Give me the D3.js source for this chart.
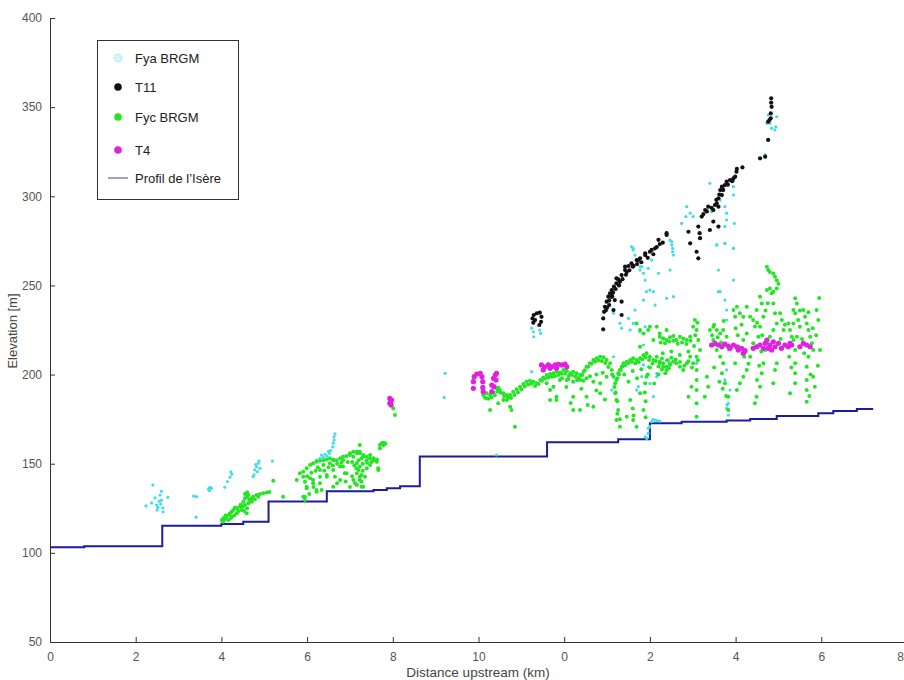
<!DOCTYPE html>
<html>
<head>
<meta charset="utf-8">
<script src="https://cdn.jsdelivr.net/npm/d3@7"></script>
<style>
  html, body { margin: 0; padding: 0; background: #fff; }
  svg { display: block; font-family: "Liberation Sans", Arial, sans-serif; }
</style>
</head>
<body>
<svg id="chart" width="904" height="680"></svg>
<script>
// Tick positions (km along the composite profile) and their printed labels
const xTickValues = [0, 2, 4, 6, 8, 10, 12, 14, 16, 18, 20];
const xTickLabels = ["0", "2", "4", "6", "8", "10", "0", "2", "4", "6", "8"];
const yTickValues = [50, 100, 150, 200, 250, 300, 350, 400];

// River long profile of the Isère: [distance km, elevation m], stepped
const profileIsere = [
  [0, 103.2], [0.8, 103.7], [2.62, 115.2], [4.0, 116.2], [4.51, 117.5],
  [5.1, 128.8], [6.46, 134.5], [7.55, 135.2], [7.86, 136.2], [8.17, 137.3],
  [8.63, 154], [11.6, 162], [13.26, 163.7], [14.0, 172.7], [14.74, 173.6],
  [15.79, 174.3], [16.34, 175.1], [16.96, 176.8], [17.93, 178.3], [18.28, 179.6],
  [18.83, 180.7], [19.21, 180.7]
];

// Fya BRGM terrace points
const fyaBRGM = [
  [2.4,138],[2.24,126.3],[2.37,128],[2.45,130.8],[2.49,126.8],[2.5,124],[2.57,132.4],[2.6,129.6],
  [2.63,125.2],[2.64,123],[2.75,131.2],[2.58,127.4],[2.52,125.5],[2.55,129],[2.6,134.5],
  [3.35,131.9],[3.42,131.5],[3.41,120],
  [3.7,135.6],[3.73,136.8],[3.77,136.2],[3.72,134.9],
  [4.08,136.8],[4.14,140],[4.2,142.4],[4.24,144.2],[4.22,145.5],
  [4.74,142.7],[4.78,146.5],[4.82,148.3],[4.86,150.2],[4.9,147.4],[4.84,145.5],[4.76,143.7],[5.19,151.5],
  [4.8,149.5],[4.88,151.5],
  [6.22,152],[6.3,153],[6.38,153.6],[6.46,154.3],[6.52,155.8],[6.55,157.3],[6.6,159.5],[6.61,161.5],
  [6.63,163.3],[6.63,165.1],[6.65,166.7],[6.34,154.8],[6.42,155.3],[6.5,157],
  [9.22,200.7],[9.2,187.2],[10.42,154.9],[11.24,201.6],
  [11.24,226],[11.28,224],[11.29,221.2],[11.43,225],[11.45,223.1],
  [13.61,270.8],[13.65,267],[13.77,260.5],[13.85,256.8],[13.89,253],[13.92,246.5],[13.85,241.8],
  [13.65,236.2],[13.61,228.7],[13.54,225],[13.34,226],[13.89,226.8],[14.08,246.5],[14.12,239],
  [14.0,247.4],[14.2,256.8],[14.51,274.5],[14.53,270.8],[14.47,258.6],[14.39,242.8],[14.55,243.7],
  [15.56,272.7],[15.6,258.6],[15.75,273.6],[15.95,270.8],[15.95,253],[15.6,246.5],[15.79,236.2],
  [15.71,225],[15.83,213.8],[13.15,210],[13.65,206.3],[13.85,205.4],[13.81,198.8],[13.73,193.2],
  [13.11,191.3],[14.16,200.7],[14.43,208.2],[14.78,202.6],[15.09,206.3],[15.75,197],[15.87,191.3],
  [13.57,271.8],[13.61,269.9],[13.77,258.6],[13.81,260.5],[13.96,259.6],[14.04,264.2],
  [14.47,275.4],[14.51,272.7],[14.53,268.9],[14.55,267],[14.86,294.2],[14.94,290.5],[14.84,288.6],
  [15.01,288.6],[14.74,284.8],[15.4,307.3],[15.36,294.2],[15.44,291.4],[15.64,297.9],[15.75,294.2],
  [15.79,290.5],[15.79,286.7],[15.75,283],[15.95,309.1],[15.95,305.4],[15.95,300.7],[15.97,284.8],
  [15.56,272.7],[15.95,270.8],[15.75,273.6],
  [16.76,345.6],[16.8,341],[16.84,338.1],[16.92,337.2],[16.96,344.6],[16.94,339],[16.73,341],[16.69,323.2],
  [13.93,164.2],[13.96,167],[14.0,170.8],[14.04,173.6],[14.12,174.5],[14.23,173.9],[13.89,165.1],
  [13.96,169.9],[14.07,174.8],[14.17,174.2],[15.79,181],[15.8,183],
  [13.15,234.4],[13.3,228.8],[13.5,231.5],[13.77,224],[13.85,216.6],[13.96,204.4],[14.0,195],
  [14.08,187.6],[14.16,198.8],[13.89,210],[13.69,191.3],
  [15.64,246.5],[15.75,241.8],[15.79,230.6],[15.79,202.6],[15.83,183.9],[15.83,177.3]
];

// T11 terrace points
const t11 = [
  [11.26,231.5],[11.28,229.1],[11.29,233.4],[11.36,234.4],[11.43,234.7],[11.47,232.4],[11.46,229.6],
  [11.42,227.8],[11.32,230.6],
  [12.91,225.4],[12.91,231.5],[12.93,235.2],[12.95,238],[12.99,240.9],[13.03,243.7],[13.07,245.6],
  [13.11,247.4],[13.16,249.3],[13.22,251.2],[13.26,253.4],[13.34,255.8],[13.42,258.6],[13.5,260.9],
  [13.57,262.4],[13.69,264.2],[13.77,265.2],[13.89,267],[14.0,268.9],[14.12,270.8],[14.23,273.2],
  [14.39,278.3],[13.15,236.2],[13.34,240.9],[13.34,233.4],[13.18,241.8],[13.05,239],[13.12,244],
  [13.3,252],[13.46,257.5],[13.62,261],
  [12.97,236],[13.0,237.5],[13.05,241.5],[13.1,243.5],[13.14,246],[13.2,248],[13.28,250],
  [13.36,253.5],[13.44,256],[13.52,258.5],[13.6,260.5],[13.7,262],[13.8,263],[13.95,265.5],
  [14.08,267.5],[14.16,271.5],[14.3,274],
  [14.94,273.6],[15.09,268.9],[15.13,265.2],[14.9,280.1],
  [13.22,254],[13.42,260.5],[13.73,264.2],[13.89,268],[14.04,269.9],[14.2,275.6],[14.39,279.3],
  [15.13,283],[15.16,279.3],[15.17,276.5],[15.21,288.6],[15.29,292.3],[15.36,294.2],[15.48,292.3],
  [15.52,295.1],[15.56,296.1],[15.6,298.9],[15.64,303.5],[15.68,305.4],[15.75,306.3],[15.79,308.2],
  [15.87,309.1],[15.95,310],[15.99,311],[16.02,313.8],[16.16,316.2],[16.03,315.4],[15.71,303.5],
  [15.68,300.7],[15.6,294.2],[15.48,285.8],[15.6,283],[15.4,281.1],
  [15.25,290],[15.33,291.5],[15.44,293.5],[15.55,298],[15.62,301],[15.7,304],[15.82,306.5],[15.92,308.5],
  [16.57,321.3],[16.69,322.2],[16.76,331.6],[16.79,342.8],[16.82,343.7],[16.82,346.5],[16.84,350.2],
  [16.83,352.5],[16.83,355],[16.76,341.8]
];

// Fyc BRGM terrace points
const fycBRGM = [
  [4.01,118.4],[4.08,118.8],[4.12,120.3],[4.2,122.2],[4.24,123.1],[4.28,124],[4.36,125],[4.43,125.9],
  [4.51,128.7],[4.55,130.6],[4.59,131.5],[4.63,132.4],[4.67,129.6],[4.63,127.8],[4.55,126.8],
  [4.47,124],[4.36,122.2],[4.24,120.3],[4.16,118.4],[4.04,117.5],[4.74,131.5],[4.82,132.4],
  [4.9,133],[4.98,133.4],[5.06,133.8],[5.12,134.1],[4.86,131.5],[4.71,128.7],[5.21,140.5],
  [5.44,131.5],[4.59,122.2],
  [4.05,119.5],[4.1,121],[4.18,121.5],[4.22,119.5],[4.3,121],[4.32,125.5],[4.4,123.5],[4.45,127],
  [4.5,126],[4.53,123.5],[4.6,125],[4.65,130],[4.7,130.5],[4.78,130],[4.55,133],[4.6,134],
  [5.83,144.6],[5.91,145.5],[5.99,147.4],[6.07,149.3],[6.14,150.2],[6.22,151.1],[6.3,151.7],
  [6.38,152],[6.46,152.4],[6.53,153],[6.61,152.4],[6.69,152],[6.77,153],[6.84,153.9],[6.92,154.3],
  [7.0,155.8],[7.08,156.7],[7.16,156.7],[7.23,155.8],[7.31,154.9],[7.39,153.9],[7.47,153],[7.55,152],
  [7.63,152.4],[7.7,160.5],[7.74,161.5],[7.78,161.8],[7.82,161],[7.23,160.5],[7.27,153],[7.16,150.2],
  [7.2,146.5],[7.23,142.7],[7.27,139.9],[7.16,138.1],[7.31,137.1],[7.08,140.9],[6.77,148.4],
  [6.61,146.5],[6.46,143.7],[6.3,142.7],[6.14,140.9],[5.99,136.2],[5.91,131.5],[6.22,134.3],
  [6.34,135.2],[7.27,143.7],[7.39,147.4],[7.47,149.3],[7.66,146.5],[6.84,148.4],[6.92,144.6],
  [6.65,142.7],[6.07,141.8],[5.95,139.9],
  [5.76,140.9],[5.91,142.7],[5.99,137.1],[6.14,139],[6.22,135.2],[5.95,131.5],[5.95,129.6],
  [6.3,146.5],[6.38,149.3],[6.53,150.2],[6.61,152],[6.84,152],[7.0,154.9],[7.08,153.9],[7.16,155.8],
  [7.23,156.7],[7.31,153.9],[7.39,152],[7.47,154.9],[7.55,153],[7.63,151.1],[7.23,148.4],[7.16,144.6],
  [7.23,140.9],[7.27,137.1],[7.12,139],[7.35,142.7],[7.7,158.6],[7.78,160.5],[7.82,161.5],[7.66,147.4],
  [8.01,181],[8.05,177.3],[6.88,144.6],[6.77,140.9],[6.61,137.1],[6.46,142.7],
  [6.0,143],[6.1,145],[6.2,146],[6.25,148],[6.4,146],[6.5,148],[6.6,149],[6.7,150],[6.8,150.5],
  [6.95,151],[7.05,151],[7.1,149],[7.15,147.5],[7.3,150],[7.4,150.5],[7.5,151],[7.2,152],[6.9,140],
  [6.7,139],[7.0,137],[7.05,143],[7.3,146],[6.05,133],[6.15,137],[6.3,139],
  [10.11,188.5],[10.19,189.5],[10.27,188.5],[10.35,189.8],[10.42,192.3],[10.46,192.8],[10.5,191.3],
  [10.58,189.5],[10.66,188.5],[10.7,187.6],[10.74,188.5],[10.81,190.4],[10.89,191.7],[10.97,193.2],
  [11.05,194.7],[11.12,196],[11.2,196.6],[11.28,196],[11.36,195.1],[11.44,196.9],[11.51,198.4],
  [11.59,199.7],[11.67,200.3],[11.71,198.8],[11.75,200.7],[11.82,201.6],[11.9,201.1],[11.98,202.6],
  [12.06,202.2],[12.14,200.7],[12.21,201.6],[12.29,200.7],[12.37,199.7],[12.45,201.6],[12.52,204.4],
  [12.6,206.3],[12.68,208.2],[12.76,209.1],[12.84,210],[12.92,209.7],[12.99,208.2],[13.07,206.3],
  [13.11,202.6],[13.15,198.8],[13.19,195.1],[13.22,196.9],[13.26,200.7],[13.3,202.6],[13.34,204.4],
  [13.38,206.3],[13.46,207.2],[13.54,208.2],[13.61,209.1],[13.69,208.2],[13.77,209.1],[13.85,210.9],
  [13.92,211.9],[14.0,210],[14.08,208.2],[14.16,210],[14.23,206.3],[14.31,204.4],[14.39,202.6],
  [14.47,206.3],
  [10.15,187],[10.23,186.5],[10.3,187.2],[10.38,188.4],[10.44,190.5],[10.52,189.8],[10.6,187.8],
  [10.68,186.9],[10.76,186.8],[10.84,188.6],[10.92,190],[11.0,191.8],[11.08,193.3],[11.16,194.5],
  [11.24,194.8],[11.32,193.6],[11.4,194.7],[11.48,196.6],[11.55,197.8],[11.63,198.4],
  [11.78,199],[11.86,199.8],[11.94,200.4],[12.02,200.6],[12.1,199.2],[12.18,199.8],[12.26,198.9],
  [12.34,198.1],[12.42,199.8],[12.48,202.4],[12.56,204.4],[12.64,206.1],[12.72,207.2],[12.8,207.9],
  [12.88,207.6],[12.96,206.5],[13.03,204.3],[11.95,198],[12.1,197.5],[12.3,197],[12.45,196.5],
  [12.6,199],[12.75,200],[12.9,201],[12.05,193],[12.4,192],[12.75,191],[12.95,186],[12.15,184],[12.55,183],
  [13.12,200],[13.17,193],[13.2,190],[13.24,198],[13.28,200],[13.32,202.5],[13.36,204.5],[13.42,205.2],
  [13.5,206.3],[13.58,207.2],[13.66,206.3],[13.74,207],[13.82,208.6],[13.9,209.7],[13.98,208.2],
  [14.06,206.2],[14.14,207.6],[14.2,204.5],[14.28,202.8],[14.36,200.8],[14.44,203.6],[13.4,200],
  [13.6,202],[13.8,203],[14.0,204],[14.2,200],[13.5,196],[13.7,198],[13.95,200],[14.1,195],
  [13.24,185],[13.24,178],[13.3,175],[13.6,181],[13.62,177],[13.88,190],[13.9,185],[13.9,176],
  [11.59,195.1],[11.67,191.3],[11.75,193.2],[11.9,196.9],[12.06,196.9],[12.21,196],[12.37,196.9],
  [12.52,197.9],[12.68,196],[12.84,195.1],[12.99,198.8],[11.67,185.7],[11.82,185.7],[12.21,187.6],
  [12.37,180.1],[12.52,187.6],[12.68,182],[12.84,189.5],[13.19,189.5],[13.22,185.7],[13.26,180.1],
  [13.22,174.5],[13.3,170.8],[13.46,176.4],[13.54,185.7],[13.61,174.5],[13.69,170.8],[13.77,189.5],
  [13.85,180.1],[13.89,195.1],[13.92,198.8],[13.77,215.6],[13.85,223.1],[14.08,219.4],[14.23,223.1],
  [14.31,220.3],[14.16,226.8],[14.39,225],[10.74,182],[10.77,180.1],[10.85,170.8],[10.58,185.7],
  [10.27,180.1],[10.46,183.9],[10.19,186.7],[10.66,185.7],[12.21,180.1],[11.82,187.6],
  [13.69,228.7],[13.77,225],[13.96,225],[14.0,226.8],
  [14.23,221.2],[14.31,220.3],[14.39,219.4],[14.47,220.9],[14.55,221.6],[14.62,219.4],[14.7,221.2],
  [14.78,220.3],[14.86,219.4],[14.94,221.2],[15.01,226.8],[15.05,230.6],[15.09,225],[15.13,219.4],
  [15.17,213.8],[15.09,210],[15.01,206.3],[14.94,210],[14.86,206.3],[14.78,202.6],[14.7,204.4],
  [14.62,206.3],[14.55,207.2],[14.47,205.4],[14.39,204.4],[14.31,206.3],[14.23,207.2],[15.09,202.6],
  [15.09,197],[15.09,191.3],[15.09,183.9],[15.09,176.4],[14.97,193.2],[14.9,187.6],[15.33,198.8],
  [15.36,193.2],[15.28,187.6],[15.4,225],[15.48,226.8],[15.56,225],[15.64,223.1],[15.71,225],
  [15.79,221.2],[15.48,219.4],[15.56,213.8],[15.64,210],[15.71,206.3],[15.68,200.7],[15.75,195.1],
  [15.83,187.6],[15.83,180.1],[15.95,236.2],[15.99,232.5],[16.03,238.1],[16.1,234.4],[16.18,232.5],
  [16.26,238.1],[16.34,232.5],[16.41,230.6],[16.49,236.2],[16.57,243.7],[16.61,239.9],[16.65,232.5],
  [16.57,226.8],[16.53,221.2],[16.41,217.5],[16.34,210],[16.26,202.6],[16.18,198.8],[16.1,195.1],
  [16.03,191.3],[15.99,206.3],[16.07,215.6],[16.18,219.4],[16.26,223.1],[16.73,260.5],[16.76,258.6],
  [16.8,257.6],[16.88,256.7],[16.92,254.8],[16.96,252.9],[17.0,251],[16.96,248.3],[16.88,246.5],
  [16.84,245.6],[16.8,248.3],[16.73,247.4],[16.88,239.9],[16.92,234.4],[16.96,228.7],[16.88,225],
  [16.8,221.2],[16.73,217.5],[16.69,213.8],[16.65,206.3],[16.61,200.7],[16.57,193.2],[16.49,187.6],
  [16.45,183.9],[16.92,215.6],[16.96,206.3],[16.92,202.6],[16.88,195.1],[17.23,228.7],[17.27,225],
  [17.31,221.2],[17.35,219.4],[17.35,228.7],[17.39,234.4],[17.43,239.9],[17.39,242.8],[17.35,236.2],
  [17.46,230.6],[17.5,226.8],[17.43,221.2],[17.39,213.8],[17.39,206.3],[17.39,200.7],[17.39,195.1],
  [17.27,189.5],[17.2,215.6],[17.12,225],[17.08,230.6],[17.04,234.4],[17.58,236.2],[17.62,232.5],
  [17.66,228.7],[17.7,225],[17.74,221.2],[17.78,217.5],[17.81,213.8],[17.7,210],[17.66,204.4],
  [17.66,197],[17.66,191.3],[17.66,184.8],[17.81,198.8],[17.85,193.2],[17.89,236.2],[17.93,230.6],
  [17.97,213.8],
  [14.25,218],[14.35,217.5],[14.45,218.5],[14.55,219],[14.65,217.3],[14.75,218],[14.85,217.2],
  [14.95,219],[14.28,209],[14.4,208],[14.5,209.5],[14.6,208.5],[14.7,207],[14.8,205],[14.9,207.5],
  [14.98,204],[14.3,212],[14.5,213],[14.7,211],[14.9,213],[15.03,216],[15.06,222],[15.11,229],[15.12,208],
  [15.45,222],[15.5,228],[15.58,221],[15.66,218],[15.72,230],[15.5,204],[15.62,196],[15.7,192],
  [15.78,188],[16.0,226],[16.05,222],[16.14,228],[16.2,210],[16.3,206],[16.45,227],[16.5,229],
  [16.62,222],[16.7,236],[16.75,240],[16.6,213],[16.55,205],[16.5,197],[17.05,220],[17.15,228],
  [17.25,210],[17.3,204],[17.5,236],[17.55,220],[17.6,212],[17.7,235],[17.8,226],[17.88,222],
  [17.92,205],[17.75,200],[17.72,188],[17.95,243]
];

// T4 terrace points
const t4 = [
  [7.93,186.7],[7.95,184.8],[7.96,183],[7.97,185.7],[7.93,183.9],
  [9.88,192.3],[9.88,196],[9.9,198.8],[9.96,200.3],[10.04,200.7],[10.08,198.8],[10.1,196],
  [10.1,192.8],[10.11,190.4],[10.31,190.4],[10.31,194.1],[10.35,197.9],[10.39,199.7],[10.42,200.7],
  [10.41,196.9],[10.36,193.2],
  [11.47,205.4],[11.51,202.6],[11.55,204.4],[11.63,205.4],[11.71,204.4],[11.79,205.4],[11.86,205.8],
  [11.94,205.4],[12.02,205.9],[12.06,204.4],[11.67,203.5],[11.82,203.5],
  [15.44,216.6],[15.52,217.5],[15.6,216.6],[15.68,215.6],[15.75,217.1],[15.83,216],[15.87,214.7],
  [15.95,216.6],[16.03,215.6],[16.06,213.8],[16.14,214.7],[16.18,211.9],[16.22,213.4],[16.41,214.7],
  [16.49,215.6],[16.57,216.6],[16.65,214.7],[16.69,217.5],[16.73,219.4],[16.8,216.6],[16.84,213.8],
  [16.92,215.6],[17.0,217.5],[17.07,214.7],[17.15,216.6],[17.23,215.6],[17.27,217.5],[17.31,216.6],
  [17.5,215.6],[17.58,217.5],[17.66,216.6],[17.74,215.6],[16.88,218.4],[16.76,214.7]
];

const legendItems = ["Fya BRGM", "T11", "Fyc BRGM", "T4", "Profil de l\u2019Isère"];

const svg = d3.select("#chart");
const x = d3.scaleLinear().domain([0, 20]).range([50, 907]);
const y = d3.scaleLinear().domain([50, 400]).range([642, 18]);

// Axes with inward ticks
const xAxis = d3.axisBottom(x).tickValues(xTickValues)
  .tickFormat((d, i) => xTickLabels[i]).tickSizeInner(-5).tickSizeOuter(0).tickPadding(10);
const yAxis = d3.axisLeft(y).tickValues(yTickValues)
  .tickSizeInner(-5).tickSizeOuter(0).tickPadding(8);

const gx = svg.append("g").attr("transform", "translate(0,642)").call(xAxis);
const gy = svg.append("g").attr("transform", "translate(50,0)").call(yAxis);
[gx, gy].forEach(g => {
  g.select(".domain").attr("stroke", "#333").attr("stroke-width", 1);
  g.selectAll(".tick line").attr("stroke", "#333");
  g.selectAll(".tick text").attr("fill", "#555").style("font-size", "12px")
    .style("font-family", "'Liberation Sans', Arial, sans-serif");
});
// keep the last distance label inside the page
gx.selectAll(".tick text").filter(d => d === 20).attr("dx", -7);

svg.append("text").attr("x", 478).attr("y", 677).attr("text-anchor", "middle")
  .attr("fill", "#444").style("font-size", "13.5px").text("Distance upstream (km)");
svg.append("text").attr("transform", "translate(17,331) rotate(-90)").attr("text-anchor", "middle")
  .attr("fill", "#444").style("font-size", "13px").text("Elevation [m]");

// River profile
const line = d3.line().x(d => x(d[0])).y(d => y(d[1])).curve(d3.curveStepAfter);
svg.append("path").datum(profileIsere).attr("d", line)
  .attr("fill", "none").attr("stroke", "#1c1ca0").attr("stroke-width", 2);

function scatter(data, color, r) {
  svg.append("g").selectAll("circle").data(data).join("circle")
    .attr("cx", d => x(d[0])).attr("cy", d => y(d[1])).attr("r", r)
    .attr("fill", color);
}
scatter(fyaBRGM, "#3fdde8", 1.6);
scatter(t11, "#111111", 2.1);
scatter(fycBRGM, "#22e622", 2.0);
scatter(t4, "#e021e0", 2.6);

// Legend
const lg = svg.append("g");
lg.append("rect").attr("x", 97.5).attr("y", 40.5).attr("width", 141).attr("height", 159)
  .attr("fill", "#fff").attr("stroke", "#333").attr("stroke-width", 1);
const rowsY = [58, 87, 117, 150, 178];
legendItems.forEach((name, i) => {
  lg.append("text").attr("x", 135).attr("y", rowsY[i] + 4.5).attr("fill", "#222")
    .style("font-size", "13px").text(name);
});
lg.append("circle").attr("cx", 118).attr("cy", rowsY[0]).attr("r", 3.8)
  .attr("fill", "#d8f6fa").attr("stroke", "#6fdcea").attr("stroke-dasharray", "1.5,1.2");
lg.append("circle").attr("cx", 118).attr("cy", rowsY[1]).attr("r", 3.8).attr("fill", "#111");
lg.append("circle").attr("cx", 118).attr("cy", rowsY[2]).attr("r", 3.8).attr("fill", "#22e622");
lg.append("circle").attr("cx", 118).attr("cy", rowsY[3]).attr("r", 3.8).attr("fill", "#e021e0");
lg.append("line").attr("x1", 108).attr("x2", 128).attr("y1", rowsY[4]).attr("y2", rowsY[4])
  .attr("stroke", "#6262b0").attr("stroke-width", 1.2);
</script>
</body>
</html>
